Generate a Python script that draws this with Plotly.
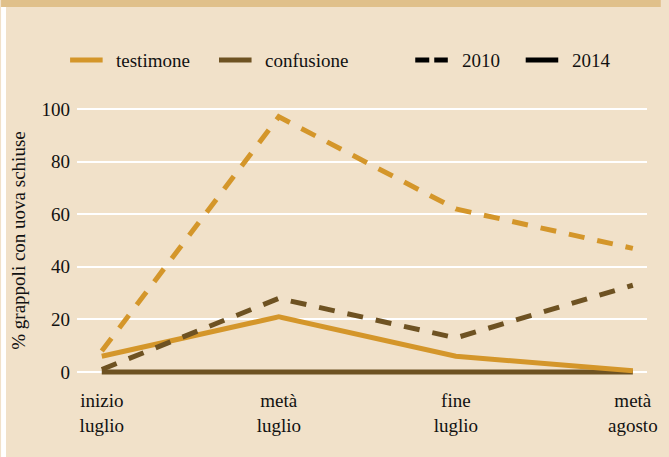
import plotly.graph_objects as go

periodi = ["inizio<br>luglio", "metà<br>luglio", "fine<br>luglio", "metà<br>agosto"]

testimone_2010 = [8, 97, 62, 47]
confusione_2010 = [1, 28, 13, 33]
testimone_2014 = [6, 21, 6, 0.5]
confusione_2014 = [0, 0, 0, 0]

ARANCIO = "#D4962A"
MARRONE = "#6E5222"
SFONDO = "#F1E1C9"
FONT = "Liberation Serif, Times New Roman, serif"

x = list(range(len(periodi)))
fig = go.Figure()

# serie
serie = [
    (confusione_2014, MARRONE, "solid"),
    (testimone_2014, ARANCIO, "solid"),
    (confusione_2010, MARRONE, "16px,13px"),
    (testimone_2010, ARANCIO, "16px,13px"),
]
for y, col, dash in serie:
    fig.add_trace(go.Scatter(x=x, y=y, mode="lines", showlegend=False, hoverinfo="skip",
                             line=dict(color=col, width=5, dash=dash)))

W, H = 669, 457
ml, mr, mt, mb = 77, 14, 101, 77
pw, ph = W - ml - mr, H - mt - mb


def px_x(p):
    return (p - ml) / pw


def px_y(p):
    return (H - mb - p) / ph


shapes = [
    dict(type="rect", xref="paper", yref="paper", x0=px_x(0), x1=px_x(W),
         y0=px_y(7), y1=px_y(0), fillcolor="#E0C08A", line_width=0, layer="below"),
    dict(type="rect", xref="paper", yref="paper", x0=px_x(0), x1=px_x(5),
         y0=px_y(H), y1=px_y(7), fillcolor="white", line_width=0, layer="below"),
]
annotations = []

# legenda disegnata a mano
voci = [
    ("testimone", ARANCIO, "solid", 70),
    ("confusione", MARRONE, "solid", 221),
    ("2010", "black", "14px,5px", 420),
    ("2014", "black", "solid", 532),
]
for nome, col, dash, x0 in voci:
    shapes.append(dict(type="line", xref="paper", yref="paper",
                       x0=px_x(x0), x1=px_x(x0 + 33), y0=px_y(60), y1=px_y(60),
                       line=dict(color=col, width=5, dash=dash)))
    annotations.append(dict(text=nome, xref="paper", yref="paper", x=px_x(x0 + 45),
                            y=px_y(60), xanchor="left", yanchor="middle",
                            showarrow=False, font=dict(size=19)))

fig.update_layout(
    width=W, height=H,
    margin=dict(l=ml, r=mr, t=mt, b=mb),
    paper_bgcolor=SFONDO, plot_bgcolor=SFONDO,
    font=dict(family=FONT, size=19, color="#111"),
    showlegend=False,
    shapes=shapes,
    annotations=annotations,
)

fig.update_xaxes(tickvals=x, ticktext=periodi, range=[-0.14, 3.08],
                 showgrid=False, zeroline=False, showline=False, ticks="",
                 tickfont=dict(size=19), ticklabelstandoff=7)
fig.update_yaxes(range=[-3, 103], tickvals=[0, 20, 40, 60, 80, 100],
                 showgrid=True, gridcolor="white", gridwidth=2, zeroline=False,
                 showline=False, ticks="", tickfont=dict(size=19), ticklabelstandoff=6,
                 title=dict(text="% grappoli con uova schiuse", font=dict(size=19), standoff=10))

fig.write_html("out.html", config={"displayModeBar": False},
               post_script="document.body.style.margin='0';")
